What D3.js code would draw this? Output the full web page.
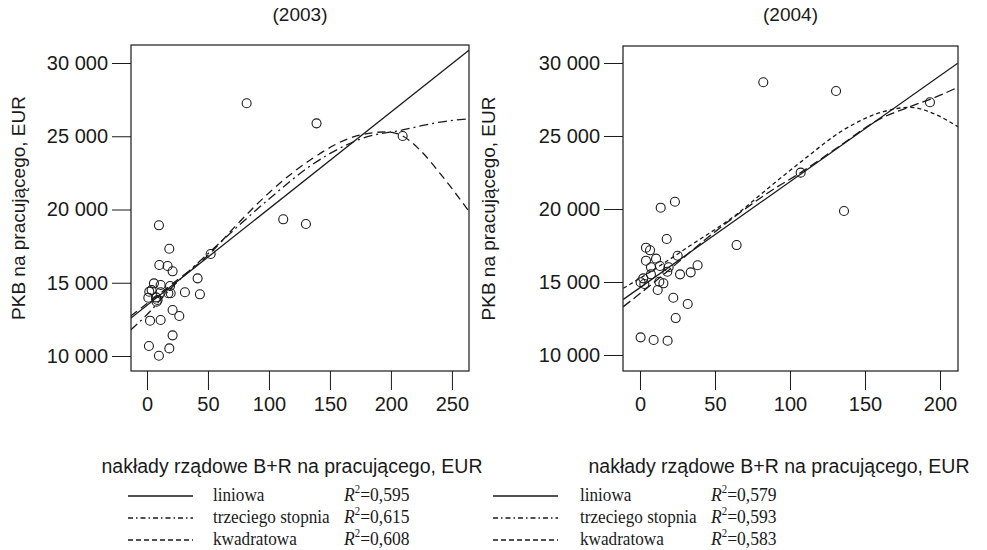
<!DOCTYPE html>
<html><head><meta charset="utf-8">
<script src="https://cdn.jsdelivr.net/npm/d3@7"></script>
<style>body{margin:0;background:#fff}</style></head>
<body>
<svg id="c" width="987" height="550"></svg>
<script>
// ---------- data ----------
const titles = ["(2003)", "(2004)"];
const yTicks = [10000, 15000, 20000, 25000, 30000];
const xTicks2003 = [0, 50, 100, 150, 200, 250];
const xTicks2004 = [0, 50, 100, 150, 200];
const xTitle = "nakłady rządowe B+R na pracującego, EUR";
const yTitle = "PKB na pracującego, EUR";

const x2003 = [81.7,139,209.6,111.7,130.3,9.8,18.3,10.1,16.9,21.0,52.2,41.5,5.7,11.2,18.9,3.8,1.9,11.2,17.5,19.4,31.1,43.4,1.1,7.4,8.7,7.9,21.0,26.5,2.5,11.2,21.0,1.6,18.3,9.8];
const y2003 = [27250,25880,25020,19330,19010,18920,17320,16210,16140,15780,16960,15300,14960,14850,14780,14500,14390,14350,14280,14280,14350,14210,13980,14000,13820,13710,13140,12730,12410,12460,11410,10680,10520,10020];

const x2004 = [82.2,130.7,193.3,107.1,136,23.3,13.8,17.8,64.4,4,6.7,4,10.7,25.1,7.3,13.3,19.1,38.4,7.3,18.2,26.7,33.8,2.2,0.4,2.9,12.9,15.6,11.8,22.2,31.8,23.8,0.4,9.1,18.4];
const y2004 = [28680,28080,27310,22490,19860,20500,20090,17945,17530,17350,17170,16460,16600,16800,16010,16095,16010,16145,15525,15705,15525,15660,15250,14980,14860,15020,14910,14450,13920,13490,12530,11210,11030,10980];

// fitted curves as [x, y] samples
const lin2003 = [[-13.4,12570],[264.2,30890]];
const cub2003 = [[-13.4,11775],[-1.6,12690],[18.9,14550],[52.2,17150],[100.8,20770],[135,23040],[180.1,24950],[209.6,25430],[237.5,25925],[264.2,26200]];
const quad2003 = [[-13.4,12730],[18.9,14800],[52.2,17050],[73.5,18950],[100.8,21200],[135,23450],[169.1,24950],[196.5,25300],[209.6,25020],[223.8,24060],[240.2,22470],[264.2,19850]];

const lin2004 = [[-11.1,13810],[211.8,29980]];
const cub2004 = [[-11.1,13310],[11.1,15120],[44.4,17980],[86.7,21200],[108.9,22610],[133.3,24330],[157.8,26055],[180,27010],[197.8,27690],[211.8,28335]];
const quad2004 = [[-11.1,14570],[11.1,15970],[33.3,17480],[64.4,19630],[86.7,21530],[108.9,23360],[135.6,25410],[162.2,26665],[180,26960],[197.8,26440],[211.8,25640]];

const legendNames = ["liniowa", "trzeciego stopnia", "kwadratowa"];
const r2_2003 = ["0,595", "0,615", "0,608"];
const r2_2004 = ["0,579", "0,593", "0,583"];

// ---------- drawing ----------
const svg = d3.select("#c");
const INK = "#1a1a1a";
const sans = "'Liberation Sans', Arial, sans-serif";
const serif = "'Liberation Serif', 'Times New Roman', serif";
const fmt = d3.formatLocale({decimal: ",", thousands: " ", grouping: [3], currency: ["", ""]}).format(",d");

const panels = [
  {title: titles[0], xs: x2003, ys: y2003, xt: xTicks2003, lin: lin2003, cub: cub2003, quad: quad2003,
   box: [131, 469, 45, 371], xd: [-13.1, 264.0], yd: [8976, 31229],
   cubDash: "9,4,2,4", quadDash: "8,5", ytx: 25, xtx: 292, id: "a"},
  {title: titles[1], xs: x2004, ys: y2004, xt: xTicks2004, lin: lin2004, cub: cub2004, quad: quad2004,
   box: [623, 958, 46, 371], xd: [-11.33, 212.0], yd: [8904, 31164],
   cubDash: "9,4", quadDash: "4,3", ytx: 495, xtx: 779, id: "b"}
];

panels.forEach(p => {
  const [L, R, T, B] = p.box;
  const x = d3.scaleLinear().domain(p.xd).range([L, R]);
  const y = d3.scaleLinear().domain(p.yd).range([B, T]);
  const g = svg.append("g");

  g.append("clipPath").attr("id", "clip" + p.id)
    .append("rect").attr("x", L).attr("y", T).attr("width", R - L).attr("height", B - T);

  // title
  g.append("text").attr("x", (L + R) / 2).attr("y", 21).attr("text-anchor", "middle")
    .attr("font-family", sans).attr("font-size", 19).attr("fill", INK).text(p.title);

  // axes
  const ya = d3.axisLeft(y).tickValues(yTicks).tickFormat(fmt).tickSize(19).tickPadding(4);
  const yg = g.append("g").attr("transform", `translate(${L},0)`).call(ya);
  const xa = d3.axisBottom(x).tickValues(p.xt).tickFormat(d3.format("d")).tickSize(19).tickPadding(7);
  const xg = g.append("g").attr("transform", `translate(0,${B})`).call(xa);
  [yg, xg].forEach(a => {
    a.select(".domain").remove();
    a.selectAll("line").attr("stroke", INK).attr("stroke-width", 1);
    a.selectAll("text").attr("font-family", sans).attr("font-size", 20).attr("fill", INK);
  });

  // axis titles
  g.append("text").attr("transform", `translate(${p.ytx},${(T + B) / 2}) rotate(-90)`)
    .attr("text-anchor", "middle").attr("font-family", sans).attr("font-size", 19).attr("fill", INK)
    .text(yTitle);
  g.append("text").attr("x", p.xtx).attr("y", 473).attr("text-anchor", "middle")
    .attr("font-family", sans).attr("font-size", 19.5).attr("fill", INK).text(xTitle);

  // box
  g.append("rect").attr("x", L).attr("y", T).attr("width", R - L).attr("height", B - T)
    .attr("fill", "none").attr("stroke", INK).attr("stroke-width", 1.2);

  // curves
  const line = d3.line().x(d => x(d[0])).y(d => y(d[1])).curve(d3.curveMonotoneX);
  const cg = g.append("g").attr("clip-path", `url(#clip${p.id})`);
  [[p.lin, null], [p.cub, p.cubDash], [p.quad, p.quadDash]].forEach(([d, dash]) => {
    cg.append("path").attr("d", line(d)).attr("fill", "none").attr("stroke", INK)
      .attr("stroke-width", 1.3).attr("stroke-dasharray", dash);
  });

  // points
  g.append("g").selectAll("circle").data(p.xs.map((v, i) => [v, p.ys[i]])).join("circle")
    .attr("cx", d => x(d[0])).attr("cy", d => y(d[1])).attr("r", 4.5)
    .attr("fill", "none").attr("stroke", INK).attr("stroke-width", 1.1);
});

// legend
const legCols = [
  {lx: 128, tx: 213, rx: 344, r2: r2_2003},
  {lx: 493, tx: 580, rx: 711, r2: r2_2004}
];
const legDash = [null, "5,3,1.5,3", "5,3"];
const rowY = [496, 518, 540];
legCols.forEach(c => {
  legendNames.forEach((name, i) => {
    const gy = rowY[i];
    svg.append("line").attr("x1", c.lx).attr("x2", c.lx + 65).attr("y1", gy).attr("y2", gy)
      .attr("stroke", INK).attr("stroke-width", 1.3).attr("stroke-dasharray", legDash[i]);
    svg.append("text").attr("transform", `translate(${c.tx},${gy + 5}) scale(0.88,1)`)
      .attr("font-family", serif).attr("font-size", 19.5).attr("fill", INK).text(name);
    const t = svg.append("text").attr("transform", `translate(${c.rx},${gy + 5}) scale(0.9,1)`)
      .attr("font-family", serif).attr("font-size", 19.5).attr("fill", INK);
    t.append("tspan").attr("font-style", "italic").text("R");
    t.append("tspan").attr("font-size", 12).attr("dy", -8).text("2");
    t.append("tspan").attr("dy", 8).text("=" + c.r2[i]);
  });
});
</script>
</body></html>
